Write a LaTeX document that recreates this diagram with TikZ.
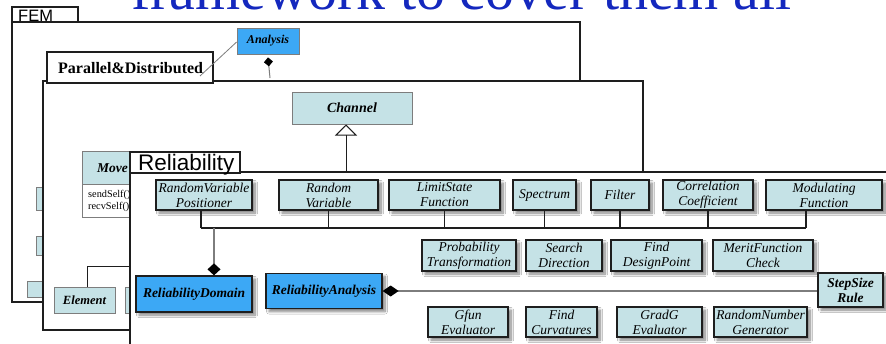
\documentclass[tikz,border=0pt]{standalone}
\usepackage{fontspec}
\setmainfont{Liberation Serif}
\setsansfont{Liberation Sans}
\usetikzlibrary{arrows.meta,shadows.blur,calc}

\definecolor{classfill}{RGB}{197,226,230}
\definecolor{corefill}{RGB}{60,168,245}
\definecolor{headline}{RGB}{20,40,190}
\definecolor{linkgray}{RGB}{125,125,125}
\definecolor{inkdark}{RGB}{30,30,30}

\tikzset{
  pkgframe/.style={draw=inkdark, line width=2pt, fill=white},
  pkgtab/.style={draw=inkdark, line width=2pt, fill=white},
  softshadow/.style={blur shadow={shadow xshift=3pt, shadow yshift=-3pt, shadow blur radius=2.5pt, shadow blur steps=8, shadow opacity=50}},
  cls/.style={draw=inkdark, line width=1.3pt, fill=classfill, align=center, inner sep=1pt,
    font=\fontsize{13.5}{15}\selectfont\itshape, softshadow},
  corecls/.style={draw=inkdark, line width=1.3pt, fill=corefill, align=center, inner sep=1pt,
    font=\fontsize{13.5}{15}\selectfont\bfseries\itshape, softshadow},
  oldcls/.style={draw=linkgray, line width=0.8pt, fill=classfill, inner sep=0pt},
  bus/.style={draw=inkdark, line width=1.3pt},
  glink/.style={draw=linkgray, line width=1.2pt},
}

\begin{document}
\begin{tikzpicture}[x=1pt, y=-1pt]
\useasboundingbox (0,0) rectangle (886,343);
\clip (0,0) rectangle (886,343);
\fill[white] (0,0) rectangle (886,343);

% headline, partly above the page edge
\node[anchor=base west, text=headline, inner sep=0pt,
      font=\fontsize{58}{58}\selectfont] (title) at (131,9) {framework to cover them all};

% ---------------- FEM package ----------------
\draw[draw=inkdark, line width=1.5pt, fill=white] (12,22) rectangle (580,302);
\draw[draw=inkdark, line width=1.5pt, fill=white] (12,7) rectangle (78,22);
\node[anchor=base west, inner sep=0pt, font=\sffamily\fontsize{16.5}{16.5}\selectfont] (femlabel) at (18,21) {FEM};

\node[oldcls, minimum width=30pt, minimum height=23pt] (femA) at (51,198.5) {};
\node[oldcls, minimum width=30pt, minimum height=19pt] (femB) at (51,245.5) {};
\node[oldcls, minimum width=33pt, minimum height=16pt, anchor=west,
      font=\fontsize{11}{11}\selectfont\bfseries\itshape, text depth=0pt] (femC) at (27,289)
      {\hspace*{6pt}u\hfill};

\node[draw=linkgray, line width=0.8pt, fill=corefill, minimum width=62pt, minimum height=26pt,
      inner sep=0pt, font=\fontsize{12}{12}\selectfont\bfseries\itshape] (ana) at (268,41) {Analysis};
\draw[glink, line width=1pt, -{Diamond[length=9pt, width=9pt, color=black, fill=black]}] (270,78) -- ([yshift=-3pt]ana.south);

% ---------------- Parallel&Distributed package ----------------
\draw[pkgframe] (43,81) rectangle (643,330);
\draw[pkgtab, line width=2.5pt] (47,52) rectangle (213,83);
\node[anchor=base west, inner sep=0pt, font=\fontsize{16}{16}\selectfont\bfseries] (pdlabel) at (58,73) {Parallel\&Distributed};
\coordinate (pdnote) at (200,76);
\draw[linkgray, line width=0.8pt] ([yshift=-1pt]ana.west) -- (pdnote);

\node[draw=linkgray, line width=1pt, fill=classfill, minimum width=120pt, minimum height=32pt,
      inner sep=0pt, font=\fontsize{14}{14}\selectfont\bfseries\itshape] (chan) at (352,108) {Channel};
\coordinate (chanfoot) at (346,172);
\draw[inkdark, line width=1pt, -{Triangle[open, length=11pt, width=22pt]}] (chanfoot) -- (chan.south -| chanfoot);

\node[draw=linkgray, line width=0.8pt, fill=classfill, minimum width=80pt, minimum height=33pt,
      inner sep=0pt, anchor=north west] (movehead) at (82,151) {};
\node[draw=linkgray, line width=0.8pt, fill=white, minimum width=80pt, minimum height=33pt,
      inner sep=0pt, anchor=north west] (movebody) at (82,184) {};
\node[anchor=base west, inner sep=0pt, font=\fontsize{13.5}{13.5}\selectfont\bfseries\itshape] (movename) at (97,172) {Move};
\node[anchor=base west, inner sep=0pt, font=\fontsize{10.3}{10.3}\selectfont] (send) at (88,197) {sendSelf()};
\node[anchor=base west, inner sep=0pt, font=\fontsize{10.3}{10.3}\selectfont] (recv) at (88,209) {recvSelf()};

\node[draw=linkgray, line width=1pt, fill=classfill, minimum width=61pt, minimum height=26pt,
      inner sep=0pt, font=\fontsize{12.5}{12.5}\selectfont\bfseries\itshape] (elem) at (84.5,300) {Element};
\node[draw=linkgray, line width=1pt, fill=classfill, minimum width=55pt, minimum height=26pt,
      inner sep=0pt, anchor=west] (elemnext) at (125,300) {};
\coordinate (elemjoin) at (150,266);
\draw[inkdark, line width=1pt] ([xshift=2.5pt]elem.north) |- (elemjoin);

% ---------------- Reliability package ----------------
\draw[pkgframe] (130,172) rectangle (900,360);
\draw[pkgtab] (130,152) rectangle (240,173);
\node[anchor=base west, inner sep=0pt, font=\sffamily\fontsize{22.5}{22.5}\selectfont] (rellabel) at (138,170) {Reliability};

% domain classes
\node[cls, minimum width=96pt,  minimum height=30pt] (rvp)  at (204,195)   {RandomVariable\\Positioner};
\node[cls, minimum width=99pt,  minimum height=30pt] (rv)   at (328.5,195) {Random\\Variable};
\node[cls, minimum width=111pt, minimum height=30pt] (lsf)  at (444.5,195) {LimitState\\Function};
\node[cls, minimum width=63pt,  minimum height=30pt] (spec) at (544.5,195) {Spectrum};
\node[cls, minimum width=58pt,  minimum height=30pt] (filt) at (620,195)   {Filter};
\node[cls, minimum width=90pt,  minimum height=30pt] (cc)   at (708,195)   {Correlation\\Coefficient};
\node[cls, minimum width=116pt, minimum height=30pt] (mf)   at (824,195)   {Modulating\\Function};

\node[corecls, minimum width=116pt, minimum height=36pt] (dom) at (194,294) {ReliabilityDomain};
\node[corecls, minimum width=116pt, minimum height=35pt] (ra)  at (324,291) {ReliabilityAnalysis};

% analysis tools
\node[cls, minimum width=94pt,  minimum height=31pt] (pt)   at (469,255.5) {Probability\\Transformation};
\node[cls, minimum width=76pt,  minimum height=31pt] (sd)   at (564,255.5) {Search\\Direction};
\node[cls, minimum width=91pt,  minimum height=31pt] (fdp)  at (656.5,255.5) {Find\\DesignPoint};
\node[cls, minimum width=100pt, minimum height=31pt] (mfc)  at (763,255.5) {MeritFunction\\Check};
\node[cls, minimum width=80pt,  minimum height=30pt] (gfun) at (468,322)   {Gfun\\Evaluator};
\node[cls, minimum width=71pt,  minimum height=30pt] (fc)   at (561.5,322) {Find\\Curvatures};
\node[cls, minimum width=85pt,  minimum height=30pt] (gg)   at (659.5,322) {GradG\\Evaluator};
\node[cls, minimum width=93pt,  minimum height=30pt] (rng)  at (760.5,322) {RandomNumber\\Generator};
\node[cls, minimum width=65pt,  minimum height=34pt, font=\fontsize{13.5}{15}\selectfont\bfseries\itshape] (step) at (850.5,290) {StepSize\\Rule};

% domain bus
\coordinate (busL) at (201,228);
\coordinate (busR) at (806,228);
\draw[bus] (busL) -- (busR);
\draw[bus] ($(rvp.south)+(-3,0)$) -- (busL);
\draw[bus] ($(mf.south)+(-18,0)$) -- (busR);
\foreach \n in {rv,lsf,spec,filt,cc}
  \draw[bus] (\n.south) -- (\n.south |- busL);

% domain aggregation
\coordinate (domtop) at ($(dom.north)+(20,0)$);
\draw[glink, -{Diamond[length=12pt, width=13pt, color=black, fill=black]}] (domtop |- busL) -- (domtop);

% analysis aggregation
\draw[glink, {Diamond[length=16pt, width=11pt, color=black, fill=black]}-] (ra.east) -- (ra.east -| step.west);
\foreach \n/\dx in {pt/5,sd/1,fdp/6.5,mfc/4}
  \draw[glink] ($(\n.south)+(\dx,0)$) -- ($(\n.south)+(\dx,0)$ |- ra.east);
\foreach \n/\dx in {gfun/0,fc/-2.5,gg/-2.5,rng/0.5}
  \draw[glink] ($(\n.north)+(\dx,0)$) -- ($(\n.north)+(\dx,0)$ |- ra.east);

\end{tikzpicture}
\end{document}
